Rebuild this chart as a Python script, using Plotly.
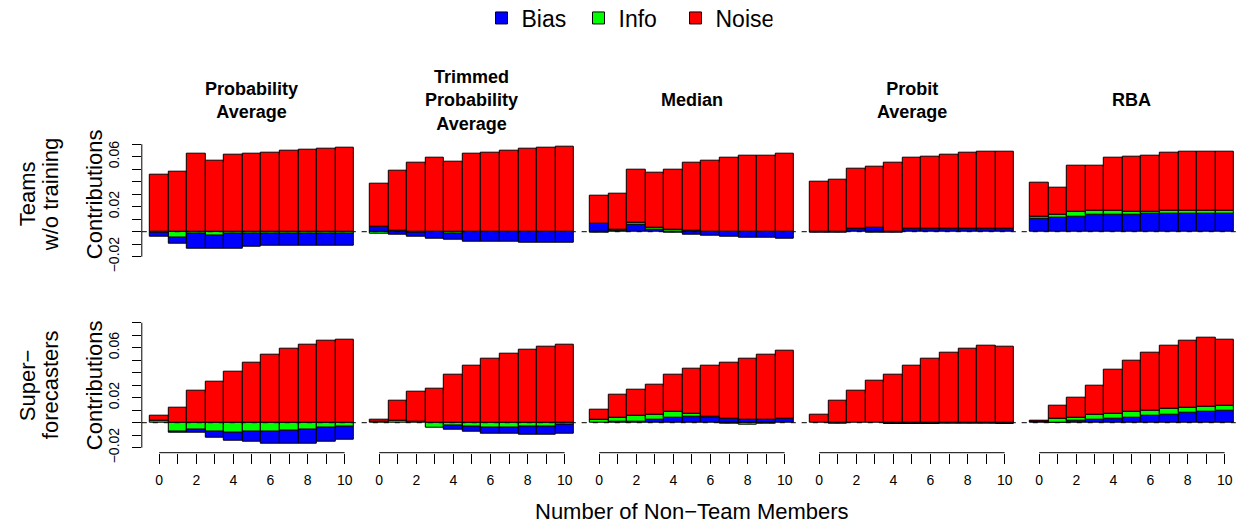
import plotly.graph_objects as go

W, H = 1238, 525
FONT = "Liberation Sans"

n_members = list(range(11))
methods = ["Probability<br>Average", "Trimmed<br>Probability<br>Average", "Median", "Probit<br>Average", "RBA"]
groups = [["Teams", "w/o training"], ["Super\u2212", "forecasters"]]
y_tick_values = [-0.02, -0.01, 0.0, 0.01, 0.02, 0.03, 0.04, 0.05, 0.06, 0.07, 0.08]
y_tick_labels = ["\u22120.02", "", "", "", "0.02", "", "", "", "0.06", "", ""]
x_tick_labels = ["0", "", "2", "", "4", "", "6", "", "8", "", "10"]

# ---- Teams w/o training (one list per aggregation method) ----
teams_bias = [
    [-0.003, -0.0048, -0.012, -0.0106, -0.0114, -0.0101, -0.0096, -0.0096, -0.0096, -0.0096, -0.0096],
    [0.004, -0.0022, -0.0035, -0.0053, -0.0048, -0.0082, -0.0082, -0.0082, -0.0088, -0.0085, -0.0088],
    [0.0064, 0.0005, 0.0053, 0.0016, -0.001, -0.0021, -0.0032, -0.004, -0.0048, -0.0048, -0.0056],
    [-0.0005, -0.0005, 0.0024, 0.0032, -0.0005, 0.0024, 0.0024, 0.0024, 0.0024, 0.0024, 0.0024],
    [0.0104, 0.0112, 0.0117, 0.0138, 0.0133, 0.0133, 0.0143, 0.0143, 0.0143, 0.0143, 0.0143],
]
teams_info = [
    [-0.001, -0.0048, -0.0016, -0.003, -0.0019, -0.0016, -0.0016, -0.0016, -0.0016, -0.0016, -0.0016],
    [-0.0015, 0.0005, -0.0005, 0, -0.0015, 0, 0, 0, 0, 0, 0],
    [-0.001, 0.001, 0.0016, 0.0013, 0.0016, 0.0005, 0, 0, 0, 0, 0],
    [0, 0, 0, -0.001, 0, 0, 0, 0, 0, 0, 0],
    [0.0015, 0.0024, 0.004, 0.0029, 0.0037, 0.0029, 0.0021, 0.0027, 0.0027, 0.0027, 0.0024],
]
teams_noise = [
    [0.0457, 0.0483, 0.0621, 0.0571, 0.0614, 0.0627, 0.0632, 0.0645, 0.0656, 0.0664, 0.0669],
    [0.0343, 0.0484, 0.055, 0.0592, 0.056, 0.0621, 0.0632, 0.0651, 0.0661, 0.0669, 0.0677],
    [0.0223, 0.029, 0.0425, 0.0441, 0.0483, 0.0545, 0.0568, 0.059, 0.0606, 0.0611, 0.0621],
    [0.0404, 0.0417, 0.0478, 0.0489, 0.055, 0.0568, 0.0579, 0.0595, 0.0605, 0.0613, 0.0619],
    [0.0271, 0.0215, 0.0374, 0.0359, 0.042, 0.0436, 0.0441, 0.0459, 0.0473, 0.0473, 0.0475],
]

# ---- Superforecasters ----
super_bias = [
    [0, -0.0005, -0.0021, -0.0045, -0.0067, -0.008, -0.0096, -0.0101, -0.0112, -0.0112, -0.0104],
    [0, 0, 0, 0, -0.0027, -0.0037, -0.0045, -0.0053, -0.0061, -0.0064, -0.0067],
    [0, 0.0005, 0.0008, 0.0027, 0.0043, 0.0048, 0.0043, 0.0032, 0.0027, 0.0027, 0.0029],
    [0, -0.001, 0, 0, -0.0006, -0.0006, -0.0006, -0.0005, -0.0004, -0.0004, -0.0006],
    [0.0006, 0.0003, 0.0016, 0.0027, 0.0035, 0.0043, 0.0059, 0.0067, 0.008, 0.0091, 0.0099],
]
super_info = [
    [0.0019, -0.0072, -0.0059, -0.0072, -0.0077, -0.0075, -0.0069, -0.0064, -0.0053, -0.0043, -0.0035],
    [0.0012, 0.0019, 0.0005, -0.0037, -0.0027, -0.0035, -0.004, -0.0037, -0.0035, -0.0029, -0.0019],
    [0.0024, 0.0037, 0.0045, 0.0037, 0.0045, 0.0024, 0.0005, -0.001, -0.0016, -0.001, 0],
    [0, 0, 0, 0, -0.0004, -0.0004, -0.0004, -0.0003, -0.0002, -0.0002, -0.0004],
    [0.0006, 0.0032, 0.0027, 0.0037, 0.004, 0.0045, 0.004, 0.0043, 0.004, 0.0037, 0.0037],
]
super_noise = [
    [0.004, 0.012, 0.0256, 0.0325, 0.0411, 0.0483, 0.0541, 0.0589, 0.0627, 0.0656, 0.0667],
    [0.0014, 0.016, 0.0243, 0.0272, 0.0387, 0.0456, 0.0509, 0.0555, 0.0587, 0.0611, 0.0627],
    [0.0083, 0.0184, 0.0208, 0.024, 0.0299, 0.0363, 0.0405, 0.0451, 0.0488, 0.052, 0.0544],
    [0.0061, 0.0179, 0.0259, 0.0333, 0.0387, 0.0456, 0.0512, 0.056, 0.0595, 0.0616, 0.0611],
    [0.0006, 0.0104, 0.0157, 0.0235, 0.0347, 0.0405, 0.0459, 0.0504, 0.0533, 0.0549, 0.0528],
]

rows_data = [(teams_bias, teams_info, teams_noise), (super_bias, super_info, super_noise)]
row_axis_top = [0.07, 0.08]

COL_BIAS, COL_INFO, COL_NOISE = "#0000FF", "#00FF00", "#FF0000"

# ---- layout geometry (pixels) ----
col_left = [141.8 + 220 * k for k in range(5)]
col_w = 220.3
row_top = [126.7, 317.7]
row_h = 135.0
x_lo, x_hi = -0.94, 10.94
px_per_unit = col_w / (x_hi - x_lo)
y_range = [-0.024, 0.084]
group_line_x = [27, 50]


def nz(vals):
    return [v if v != 0 else None for v in vals]


fig = go.Figure()
layout = dict(
    width=W, height=H,
    margin=dict(l=0, r=0, t=0, b=0, autoexpand=False),
    paper_bgcolor="white", plot_bgcolor="white",
    barmode="relative", bargap=0,
    font=dict(family=FONT, color="black", size=14),
    showlegend=True,
    legend=dict(orientation="h", x=627 / W, xanchor="center", y=1 - 18 / H, yanchor="middle",
                font=dict(size=23, family=FONT), bgcolor="rgba(0,0,0,0)", traceorder="normal",
                entrywidth=52, entrywidthmode="pixels"),
)
shapes = []
annotations = []

idx = 0
for r in range(2):
    bias_l, info_l, noise_l = rows_data[r]
    for c in range(5):
        idx += 1
        sfx = "" if idx == 1 else str(idx)
        xa, ya = "x" + sfx, "y" + sfx
        bias, info, noise = bias_l[c], info_l[c], noise_l[c]
        info_neg = [min(v, 0) for v in info]
        info_pos = [max(v, 0) for v in info]
        first = (idx == 1)
        line = dict(color="black", width=1)
        common = dict(x=n_members, width=1, xaxis=xa, yaxis=ya, hoverinfo="skip")
        fig.add_trace(go.Bar(y=nz(info_neg), marker=dict(color=COL_INFO, line=line),
                             showlegend=False, legendgroup="info", name="Info", **common))
        fig.add_trace(go.Bar(y=nz(bias), marker=dict(color=COL_BIAS, line=line),
                             showlegend=first, legendgroup="bias", name="Bias", **common))
        fig.add_trace(go.Bar(y=nz(info_pos), marker=dict(color=COL_INFO, line=line),
                             showlegend=first, legendgroup="info", name="Info", **common))
        fig.add_trace(go.Bar(y=nz(noise), marker=dict(color=COL_NOISE, line=line),
                             showlegend=first, legendgroup="noise", name="Noise", **common))

        left = col_left[c]
        right = min(left + col_w, W)
        x0 = left / W
        x1 = right / W
        xr = [x_lo, x_lo + (right - left) / px_per_unit]
        y1 = 1 - row_top[r] / H
        y0 = 1 - (row_top[r] + row_h) / H
        xaxis = dict(domain=[x0, x1], anchor=ya, range=xr, showgrid=False, zeroline=False,
                     showline=False, fixedrange=True)
        if r == 1:
            xaxis.update(tickmode="array", tickvals=n_members, ticktext=x_tick_labels,
                         ticks="outside", ticklen=10, tickwidth=1, tickcolor="black",
                         ticklabelstandoff=4,
                         tickfont=dict(size=14, family=FONT), showticklabels=True)
            shapes.append(dict(type="line", xref=xa, yref=f"{ya} domain", x0=0, x1=10, y0=0, y1=0,
                               line=dict(color="black", width=1)))
        else:
            xaxis.update(showticklabels=False, ticks="")
        top = row_axis_top[r]
        yaxis = dict(domain=[y0, y1], anchor=xa, range=y_range, showgrid=False, zeroline=False,
                     showline=False, fixedrange=True)
        if c == 0:
            tv = [v for v in y_tick_values if v <= top + 1e-9]
            tt = y_tick_labels[:len(tv)]
            yaxis.update(tickmode="array", tickvals=tv, ticktext=tt, ticks="outside", ticklen=9,
                         tickwidth=1, tickcolor="black", tickangle=-90, ticklabelstandoff=7,
                         tickfont=dict(size=14, family=FONT), showticklabels=True)
            shapes.append(dict(type="line", xref=f"{xa} domain", yref=ya, x0=0, x1=0, y0=tv[0], y1=tv[-1],
                               line=dict(color="black", width=1)))
            yc = 1 - (row_top[r] + row_h / 2) / H
            annotations.append(dict(text="Contributions", textangle=-90, xref="paper", yref="paper",
                                    x=94 / W, y=yc, xanchor="center", yanchor="middle",
                                    showarrow=False, font=dict(size=22, family=FONT)))
            for li, txt in enumerate(groups[r]):
                annotations.append(dict(text=txt, textangle=-90, xref="paper", yref="paper",
                                        x=group_line_x[li] / W, y=yc,
                                        xanchor="center", yanchor="middle", showarrow=False,
                                        font=dict(size=22, family=FONT)))
        else:
            yaxis.update(showticklabels=False, ticks="")
        layout["xaxis" + sfx] = xaxis
        layout["yaxis" + sfx] = yaxis

        shapes.append(dict(type="line", xref=f"{xa} domain", yref=ya, x0=0, x1=1, y0=0, y1=0,
                           line=dict(color="black", width=1, dash="5px,6px"), layer="above"))
        if r == 0:
            annotations.append(dict(text=f"<b>{methods[c]}</b>", xref="paper", yref="paper",
                                    x=(left + col_w / 2) / W, y=1 - 100 / H,
                                    xanchor="center", yanchor="middle", showarrow=False,
                                    font=dict(size=18, family=FONT)))

annotations.append(dict(text="Number of Non\u2212Team Members", xref="paper", yref="paper",
                        x=692 / W, y=1 - 511 / H, xanchor="center", yanchor="middle",
                        showarrow=False, font=dict(size=22, family=FONT)))

layout["shapes"] = shapes
layout["annotations"] = annotations
fig.update_layout(**layout)
fig.write_html("out.html")
